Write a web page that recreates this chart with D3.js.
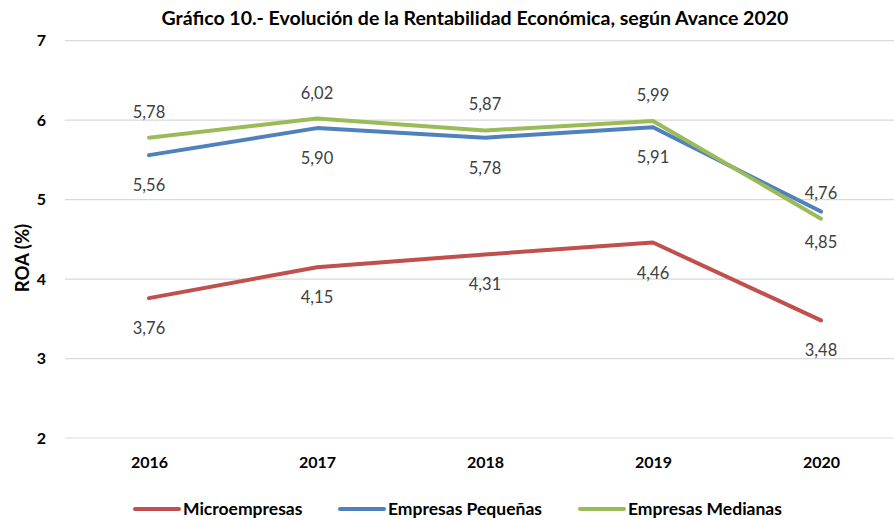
<!DOCTYPE html>
<html>
<head>
<meta charset="utf-8">
<script src="https://cdn.jsdelivr.net/npm/d3@7"></script>
<style>
  body { margin: 0; background: #fff; }
  svg { display: block; font-family: Lato, "Open Sans", sans-serif; }
</style>
</head>
<body>
<svg id="chart" width="894" height="520"></svg>
<script>
// Años y rentabilidad económica (ROA, %) por tamaño de empresa
const years = ["2016", "2017", "2018", "2019", "2020"];
const micro = [3.76, 4.15, 4.31, 4.46, 3.48];
const pequenas = [5.56, 5.90, 5.78, 5.91, 4.85];
const medianas = [5.78, 6.02, 5.87, 5.99, 4.76];
const yTicks = [2, 3, 4, 5, 6, 7];

const series = [
  { name: "Microempresas", values: micro, color: "#C0504D", labelPos: "below" },
  { name: "Empresas Pequeñas", values: pequenas, color: "#4F81BD", labelPos: "below" },
  { name: "Empresas Medianas", values: medianas, color: "#9BBB59", labelPos: "above" }
];

const svg = d3.select("#chart");
const plotLeft = 65, plotRight = 905, plotTop = 40.7, plotBottom = 438;

const x = d3.scalePoint().domain(years).range([plotLeft, plotRight]).padding(0.5);
const y = d3.scaleLinear().domain([2, 7]).range([plotBottom, plotTop]);

// Título
svg.append("text")
  .attr("x", 475).attr("y", 25)
  .attr("text-anchor", "middle")
  .attr("font-weight", "bold").attr("font-size", 19.5)
  .attr("fill", "#000")
  .text("Gráfico 10.- Evolución de la Rentabilidad Económica, según Avance 2020");

// Líneas de cuadrícula
svg.append("g").selectAll("line").data(yTicks).join("line")
  .attr("x1", plotLeft).attr("x2", plotRight)
  .attr("y1", d => y(d)).attr("y2", d => y(d))
  .attr("stroke", "#d9d9d9").attr("stroke-width", 1.2);

// Eje Y
const yAxis = svg.append("g").attr("transform", `translate(${plotLeft},0)`)
  .call(d3.axisLeft(y).tickValues(yTicks).tickSize(0).tickPadding(19).tickFormat(d3.format("d")));
yAxis.select(".domain").remove();
yAxis.selectAll("text").attr("font-size", 16).attr("font-weight", "bold")
  .attr("font-family", "Lato, sans-serif").attr("fill", "#000");

// Eje X
const xAxis = svg.append("g").attr("transform", `translate(0,${plotBottom})`)
  .call(d3.axisBottom(x).tickSize(0).tickPadding(19));
xAxis.select(".domain").remove();
xAxis.selectAll("text").attr("font-size", 16).attr("font-weight", "bold")
  .attr("font-family", "Lato, sans-serif").attr("fill", "#000");

// Título del eje Y
svg.append("text")
  .attr("transform", "translate(29,258) rotate(-90)")
  .attr("text-anchor", "middle")
  .attr("font-weight", "bold").attr("font-size", 18.5)
  .text("ROA (%)");

// Series
const line = d3.line().x((d, i) => x(years[i])).y(d => y(d));
series.forEach(s => {
  svg.append("path")
    .datum(s.values)
    .attr("d", line)
    .attr("fill", "none")
    .attr("stroke", s.color)
    .attr("stroke-width", 4)
    .attr("stroke-linejoin", "round")
    .attr("stroke-linecap", "round");

  svg.append("g").selectAll("text").data(s.values).join("text")
    .attr("x", (d, i) => x(years[i]))
    .attr("y", d => s.labelPos === "above" ? y(d) - 20 : y(d) + 36)
    .attr("text-anchor", "middle")
    .attr("font-size", 16.5)
    .attr("fill", "#404040")
    .text(d => d3.format(".2f")(d).replace(".", ","));
});

// Leyenda
const legendX = [135, 340, 580];
series.forEach((s, i) => {
  const g = svg.append("g").attr("transform", `translate(${legendX[i]},509)`);
  g.append("line").attr("x1", 0).attr("x2", 44).attr("y1", 0).attr("y2", 0)
    .attr("stroke", s.color).attr("stroke-width", 4).attr("stroke-linecap", "round");
  g.append("text").attr("x", 48).attr("y", 6)
    .attr("font-size", 17.5).attr("font-weight", "bold").attr("fill", "#000")
    .text(s.name);
});
</script>
</body>
</html>
